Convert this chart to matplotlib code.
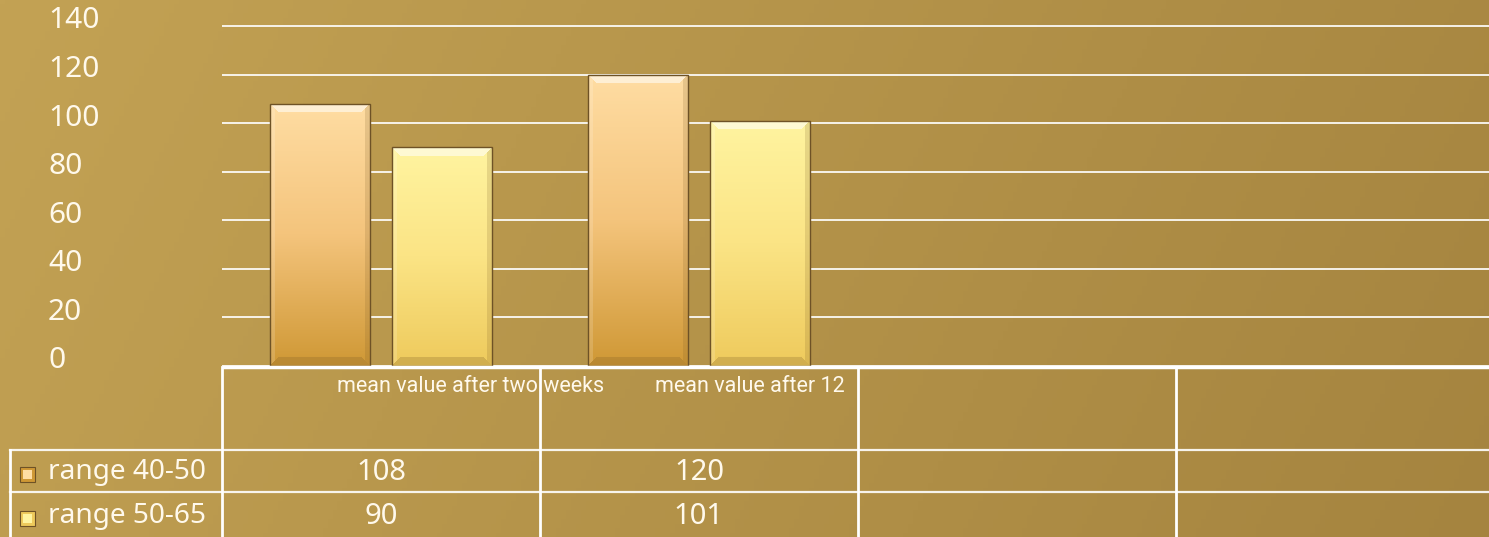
import numpy as np
import matplotlib
matplotlib.use("Agg")
import matplotlib.pyplot as plt
import matplotlib.transforms as mtransforms
from matplotlib.patches import Rectangle
from matplotlib.colors import to_rgb

# ---------------- data ----------------
categories = ["mean value after two weeks", "mean value after 12", "", ""]
series_names = ["range 40-50", "range 50-65"]
range_40_50 = [108, 120, None, None]
range_50_65 = [90, 101, None, None]
yticks = [0, 20, 40, 60, 80, 100, 120, 140]

# ---------------- style ----------------
W, H, DPI = 14.89, 5.37, 100
FONT = ["Noto Sans", "DejaVu Sans"]
TXT = "#FFF9EC"
series_cols = [
    dict(top="#FFDDA3", mid="#F4C47C", bot="#CF9835"),
    dict(top="#FFF4A0", mid="#FBE485", bot="#EECA5C"),
]

fig = plt.figure(figsize=(W, H), dpi=DPI)

# background gradient
bg = fig.add_axes([0, 0, 1, 1], zorder=-10)
bg.set_axis_off()
nx, ny = 300, 120
xx, yy = np.meshgrid(np.linspace(0, 1, nx), np.linspace(0, 1, ny))
t = np.clip(0.85 * xx + 0.15 * yy, 0, 1)  # yy: 0 top -> 1 bottom
c0 = np.array(to_rgb("#C3A254"))
c1 = np.array(to_rgb("#A5843F"))
img = c0[None, None, :] * (1 - t[..., None]) + c1[None, None, :] * t[..., None]
bg.imshow(img, extent=[0, 1, 0, 1], aspect="auto", origin="upper")
bg.set_xlim(0, 1); bg.set_ylim(0, 1)

# main axes (pixel geometry)
px_left, px_right, px_zero, px_top = 222, 1494, 366, 20
unit_px = 340 / 140
ax = fig.add_axes([px_left / 1489, (537 - px_zero) / 537,
                   (px_right - px_left) / 1489, (px_zero - px_top) / 537])
ax.set_facecolor("none")
for s in ax.spines.values():
    s.set_visible(False)
ymax = (px_zero - px_top) / unit_px
ax.set_xlim(-0.5, len(categories) - 0.5)
ax.set_ylim(0, ymax)
ax.set_yticks(yticks)
ax.set_yticklabels([])
ax.set_xticks([])
ax.tick_params(length=0)
ax.yaxis.grid(True, color="white", lw=1.3, alpha=0.95)
ax.set_axisbelow(True)

bar_w = 0.314
offsets = [-0.192, 0.192]
x = np.arange(len(categories))


def bar_image(cols, w_px, h_px):
    w_px = max(int(round(w_px)), 2)
    h_px = max(int(round(h_px)), 2)
    top = np.array(to_rgb(cols["top"]))
    mid = np.array(to_rgb(cols["mid"]))
    bot = np.array(to_rgb(cols["bot"]))
    v = np.linspace(0, 1, h_px)[:, None]
    base = np.where(v[..., None] < 0.5,
                    top * (1 - 2 * v[..., None]) + mid * (2 * v[..., None]),
                    mid * (2 - 2 * v[..., None]) + bot * (2 * v[..., None] - 1))
    base = np.broadcast_to(base, (h_px, w_px, 3)).copy()
    jj, ii = np.meshgrid(np.arange(w_px), np.arange(h_px))
    d_top = ii
    d_bot = h_px - 1 - ii
    d_left = jj
    d_right = w_px - 1 - jj
    bw = 9
    dmin = np.minimum.reduce([d_top, d_bot, d_left, d_right])
    white = np.ones(3)
    dark = np.array(to_rgb("#7A5A24"))
    m_top = (d_top == dmin) & (d_top < bw)
    m_bot = (d_bot == dmin) & (d_bot < bw) & ~m_top
    m_left = (d_left == dmin) & (d_left < 5) & ~m_top & ~m_bot
    m_right = (d_right == dmin) & (d_right < 5) & ~m_top & ~m_bot & ~m_left
    out = base.copy()
    out[m_top] = out[m_top] * 0.45 + white * 0.55
    out[m_bot] = out[m_bot] * 0.75 + dark * 0.25
    out[m_left] = out[m_left] * 0.85 + white * 0.15
    out[m_right] = out[m_right] * 0.82 + dark * 0.18
    return out


for k, vals in enumerate([range_40_50, range_50_65]):
    xs = [xi + offsets[k] for xi, v in zip(x, vals) if v is not None]
    vs = [v for v in vals if v is not None]
    bars = ax.bar(xs, vs, bar_w, color="none", edgecolor="#6E5226",
                  linewidth=1.0, zorder=4)
    for b in bars:
        x0, y0, w, h = b.get_x(), b.get_y(), b.get_width(), b.get_height()
        w_px = w * (px_right - px_left) / len(categories)
        h_px = h * unit_px
        im = ax.imshow(bar_image(series_cols[k], w_px, h_px),
                       extent=[x0, x0 + w, y0, y0 + h], aspect="auto",
                       origin="upper", zorder=3, interpolation="bilinear")
        im.set_clip_path(b)
ax.set_xlim(-0.5, len(categories) - 0.5)
ax.set_ylim(0, ymax)

# y tick labels (left aligned at x=48 px, slightly above gridlines)
ylab_tr = mtransforms.blended_transform_factory(fig.transFigure, ax.transData) + \
    mtransforms.ScaledTranslation(0, 5 / 100, fig.dpi_scale_trans)
for yt in yticks:
    ax.text(48 / 1489, yt, str(yt), transform=ylab_tr, ha="left", va="center",
            fontsize=21.5, color=TXT, family=FONT, clip_on=False)

# ---------------- data table ----------------
tr = mtransforms.blended_transform_factory(ax.transData, fig.transFigure)
ftr = fig.transFigure


def fy(py):
    return (537 - py) / 537


lw_tab = 2.0
edges = [xi - 0.5 for xi in x] + [x[-1] + 0.5]
ax.plot([edges[0], edges[-1]], [fy(367)] * 2, transform=tr, color="white",
        lw=2.5, clip_on=False, zorder=6, solid_capstyle="butt")
for e in edges:
    ax.plot([e, e], [fy(367), fy(540)], transform=tr, color="white",
            lw=lw_tab, clip_on=False, zorder=6)
for py in [450, 492]:
    fig.add_artist(plt.Line2D([10 / 1489, 1.0], [fy(py)] * 2, color="white",
                              lw=1.6, alpha=0.9))
fig.add_artist(plt.Line2D([10 / 1489] * 2, [fy(450), 0], color="white", lw=lw_tab))

# category labels
for xi, c in zip(x, categories):
    if c:
        ax.text(xi - 0.138, fy(386), c, transform=tr, ha="left", va="center",
                fontsize=15.5, color=TXT, family=["Roboto", "DejaVu Sans"],
                clip_on=False, zorder=7)

# values and legend keys
row_y = [fy(472), fy(516)]
for k, vals in enumerate([range_40_50, range_50_65]):
    for xi, v in zip(x, vals):
        if v is not None:
            ax.text(xi, row_y[k], str(v), transform=tr, ha="center", va="center",
                    fontsize=21, color=TXT, family=FONT, clip_on=False, zorder=7)
    kx, ks = 20 / 1489, 15
    key = Rectangle((kx, row_y[k] - (ks / 2 + 2) / 537), ks / 1489, ks / 537,
                    transform=ftr, facecolor=series_cols[k]["bot"],
                    edgecolor="#6E5226", lw=0.8)
    fig.add_artist(key)
    inner = Rectangle((kx + 3 / 1489, row_y[k] - (ks / 2 - 1) / 537), (ks - 6) / 1489,
                      (ks - 6) / 537, transform=ftr, facecolor=series_cols[k]["top"],
                      edgecolor="none")
    fig.add_artist(inner)
    fig.text(48 / 1489, row_y[k], series_names[k], ha="left", va="center",
             fontsize=20.2, color=TXT, family=FONT)

fig.savefig("out.png", dpi=DPI)
